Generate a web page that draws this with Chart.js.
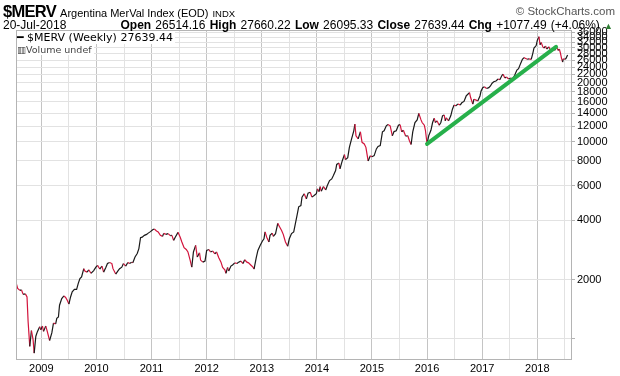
<!DOCTYPE html>
<html lang="en">

<head>
    <meta charset="UTF-8">
    <title>$MERV Argentina MerVal Index</title>
    <script src="https://cdn.jsdelivr.net/npm/chart.js"></script>
    <style>
        body,
        html {
            margin: 0;
            padding: 0;
            background-color: #fff;
            font-family: "Liberation Sans", Arial, sans-serif;
        }

        .wrap {
            position: relative;
            width: 620px;
            height: 376px;
            overflow: hidden;
        }

        canvas {
            position: absolute;
            left: 0;
            top: 0;
        }

        .hdr {
            position: absolute;
            white-space: nowrap;
            color: #000;
        }

        .sym {
            font-weight: bold;
            font-size: 16.5px;
            letter-spacing: -0.7px;
        }

        .name {
            font-size: 11px;
            margin-left: 4px;
        }

        .exch {
            font-size: 9.5px;
            margin-left: 4px;
        }

        .copy {
            color: #555;
            font-size: 11.5px;
        }

        .quote {
            font-size: 12px;
        }

        .quote b {
            font-weight: bold;
        }

        .up {
            color: #2e7d32;
            font-size: 9px;
        }

        .legend {
            position: absolute;
            left: 17px;
            white-space: nowrap;
            background: #fff;
            font-family: "DejaVu Sans", sans-serif;
        }
    </style>
</head>

<body>
    <div class="wrap">
        <canvas id="mervChart" width="620" height="376"></canvas>

        <div class="hdr" style="left:3px; top:2px;">
            <span class="sym">$MERV</span><span class="name">Argentina MerVal Index (EOD)</span><span class="exch">INDX</span>
        </div>
        <div class="hdr copy" style="right:5px; top:5px;">© StockCharts.com</div>
        <div class="hdr quote" style="left:3px; top:18px;">20-Jul-2018</div>
        <div class="hdr quote" style="right:7px; top:18px; word-spacing:0.9px;">
            <b>Open</b> 26514.16 <b>High</b> 27660.22 <b>Low</b> 26095.33 <b>Close</b> 27639.44
            <b>Chg</b> +1077.49 (+4.06%) <span class="up">▲</span>
        </div>

        <div class="legend" style="top:31px; font-size:11px; padding-right:2px;">
            <b>━</b> $MERV (Weekly) 27639.44
        </div>
        <div class="legend" style="top:44px; font-size:9.5px; color:#444; padding-right:2px;">
            ▥Volume undef
        </div>
    </div>

    <script>
        // weekly closes (decimal years)
        const weeks = [
            2008.55, 2008.57, 2008.61, 2008.64, 2008.67, 2008.71, 2008.74, 2008.76, 2008.79, 2008.82,
            2008.85, 2008.87, 2008.90, 2008.93, 2008.97, 2008.99, 2009.02, 2009.04, 2009.08, 2009.10,
            2009.15, 2009.19, 2009.22, 2009.26, 2009.28, 2009.31, 2009.33, 2009.37, 2009.41, 2009.44,
            2009.47, 2009.50, 2009.53, 2009.56, 2009.60, 2009.64, 2009.67, 2009.70, 2009.73, 2009.77,
            2009.79, 2009.83, 2009.86, 2009.90, 2009.95, 2009.99, 2010.02, 2010.06, 2010.10, 2010.13,
            2010.17, 2010.20, 2010.24, 2010.28, 2010.30, 2010.35, 2010.39, 2010.42, 2010.46, 2010.49,
            2010.53, 2010.57, 2010.60, 2010.64, 2010.66, 2010.70, 2010.74, 2010.77, 2010.80, 2010.83,
            2010.87, 2010.91, 2010.94, 2010.98, 2011.02, 2011.05, 2011.09, 2011.12, 2011.16, 2011.20,
            2011.22, 2011.26, 2011.30, 2011.34, 2011.37, 2011.40, 2011.43, 2011.48, 2011.52, 2011.55,
            2011.59, 2011.63, 2011.66, 2011.70, 2011.73, 2011.76, 2011.80, 2011.83, 2011.87, 2011.89,
            2011.93, 2011.97, 2012.00, 2012.04, 2012.07, 2012.11, 2012.15, 2012.18, 2012.22, 2012.26,
            2012.29, 2012.33, 2012.35, 2012.38, 2012.40, 2012.44, 2012.47, 2012.51, 2012.55, 2012.58,
            2012.62, 2012.66, 2012.69, 2012.73, 2012.76, 2012.80, 2012.84, 2012.86, 2012.90, 2012.93,
            2012.97, 2013.01, 2013.04, 2013.06, 2013.09, 2013.13, 2013.15, 2013.19, 2013.21, 2013.25,
            2013.29, 2013.32, 2013.36, 2013.39, 2013.43, 2013.47, 2013.50, 2013.54, 2013.58, 2013.61,
            2013.64, 2013.67, 2013.71, 2013.73, 2013.77, 2013.81, 2013.84, 2013.88, 2013.91, 2013.95,
            2013.99, 2014.01, 2014.04, 2014.06, 2014.08, 2014.12, 2014.16, 2014.19, 2014.23, 2014.27,
            2014.30, 2014.34, 2014.36, 2014.40, 2014.42, 2014.46, 2014.50, 2014.52, 2014.56, 2014.59,
            2014.63, 2014.67, 2014.69, 2014.71, 2014.75, 2014.79, 2014.82, 2014.86, 2014.89, 2014.93,
            2014.97, 2015.00, 2015.04, 2015.08, 2015.11, 2015.15, 2015.19, 2015.22, 2015.26, 2015.29,
            2015.33, 2015.37, 2015.40, 2015.44, 2015.48, 2015.51, 2015.54, 2015.57, 2015.61, 2015.65,
            2015.68, 2015.71, 2015.74, 2015.78, 2015.82, 2015.85, 2015.89, 2015.91, 2015.95, 2015.97,
            2016.00, 2016.03, 2016.07, 2016.10, 2016.13, 2016.15, 2016.18, 2016.22, 2016.25, 2016.28,
            2016.31, 2016.33, 2016.35, 2016.39, 2016.43, 2016.46, 2016.49, 2016.52, 2016.56, 2016.60,
            2016.63, 2016.67, 2016.71, 2016.74, 2016.77, 2016.79, 2016.83, 2016.85, 2016.89, 2016.92,
            2016.96, 2016.98, 2017.01, 2017.04, 2017.08, 2017.12, 2017.15, 2017.18, 2017.21, 2017.25,
            2017.29, 2017.32, 2017.36, 2017.38, 2017.41, 2017.44, 2017.48, 2017.52, 2017.55, 2017.59,
            2017.63, 2017.66, 2017.70, 2017.73, 2017.76, 2017.78, 2017.82, 2017.85, 2017.89, 2017.92,
            2017.94, 2017.98, 2018.00, 2018.03, 2018.05, 2018.07, 2018.10, 2018.12, 2018.15, 2018.17,
            2018.21, 2018.24, 2018.28, 2018.32, 2018.35, 2018.38, 2018.40, 2018.42, 2018.44, 2018.46,
            2018.47, 2018.50, 2018.52, 2018.55
        ];

        const closes = [
            1890, 1800, 1760, 1770, 1680, 1690, 1630, 1220, 915, 1100,
            990, 845, 1030, 1090, 1150, 1110, 1160, 1090, 1160, 1110,
            980, 1070, 1200, 1190, 1270, 1290, 1480, 1600, 1650, 1620,
            1570, 1500, 1630, 1730, 1780, 1780, 1910, 2020, 2060, 2270,
            2210, 2180, 2240, 2150, 2220, 2310, 2360, 2260, 2340, 2180,
            2300, 2410, 2440, 2410, 2270, 2130, 2210, 2270, 2310, 2410,
            2340, 2440, 2410, 2450, 2430, 2600, 2710, 2870, 3260, 3280,
            3350, 3390, 3440, 3500, 3580, 3610, 3530, 3490, 3350, 3310,
            3430, 3390, 3420, 3340, 3350, 3160, 3280, 3470, 3280, 3100,
            2900, 2840, 2760, 2510, 2310, 2760, 2980, 2600, 2730, 2510,
            2450, 2480, 2810, 2840, 2760, 2790, 2700, 2760, 2580, 2450,
            2300, 2240, 2150, 2300, 2210, 2340, 2370, 2430, 2410, 2450,
            2480, 2410, 2520, 2450, 2430, 2370, 2310, 2260, 2580, 2810,
            2980, 3130, 3220, 3490, 3280, 3100, 3350, 3440, 3310, 3420,
            3860, 3720, 3550, 3390, 3100, 2950, 3220, 3420, 3490, 3840,
            4230, 4680, 4750, 5240, 5450, 5130, 5490, 5550, 5240, 5340,
            5450, 5770, 5590, 5930, 5620, 5930, 5700, 6000, 6360, 6480,
            6740, 7150, 7680, 7800, 7300, 8000, 8610, 8120, 8310, 9380,
            10350, 11380, 12310, 10740, 10350, 11250, 9950, 9760, 9380, 8000,
            8510, 8410, 8510, 9210, 9470, 9580, 11250, 11380, 12070, 12240,
            12070, 10740, 11280, 11380, 12150, 12240, 11250, 11450, 10700, 10740,
            10130, 9700, 11250, 12540, 12930, 13950, 12930, 12540, 12150, 11450,
            9760, 10740, 11450, 12540, 13180, 12540, 12790, 12150, 12540, 13560,
            13700, 12790, 13250, 12790, 13560, 14660, 15380, 15230, 15560, 15380,
            15790, 16050, 17110, 17450, 17780, 16800, 15560, 16460, 16300, 16140,
            17110, 18140, 18850, 19040, 18660, 18850, 19230, 19860, 20200, 20390,
            20870, 20700, 21780, 22060, 21100, 21360, 20870, 21100, 20870, 21780,
            23160, 23520, 25110, 26260, 26810, 26560, 26260, 26420, 26260, 28260,
            29980, 30840, 32780, 34220, 31150, 32010, 30400, 29980, 30670, 29620,
            30400, 29140, 29620, 29170, 30400, 29140, 29620, 28260, 26560, 25440,
            26420, 26260, 26510, 27639.44
        ];

        // green trend line drawn on the chart
        const trendX = [2016.00, 2018.34];
        const trendY = [9760, 30400];

        const yTicks = [1000, 2000, 4000, 6000, 8000, 10000, 12000, 14000, 16000, 18000, 20000,
            22000, 24000, 26000, 28000, 30000, 32000, 34000, 36000];
        const yearTicks = [2009, 2009.5, 2010, 2010.5, 2011, 2011.5, 2012, 2012.5, 2013, 2013.5, 2014,
            2014.5, 2015, 2015.5, 2016, 2016.5, 2017, 2017.5, 2018, 2018.5];

        const UP = '#1a1a1a';
        const DOWN = '#d2143c';

        // frame round the plot area
        const frame = {
            id: 'frame',
            afterDraw(chart) {
                const a = chart.chartArea;
                const c = chart.ctx;
                c.save();
                c.strokeStyle = '#b4b4b4';
                c.lineWidth = 1;
                c.strokeRect(a.left + 0.5, a.top + 0.5, a.right - a.left - 1, a.bottom - a.top - 1);
                c.restore();
            }
        };

        const price = weeks.map((w, i) => ({ x: w, y: closes[i] }));
        const trend = trendX.map((w, i) => ({ x: w, y: trendY[i] }));

        new Chart(document.getElementById('mervChart'), {
            type: 'line',
            data: {
                datasets: [{
                    data: trend,
                    borderColor: '#27b04b',
                    borderWidth: 4,
                    pointRadius: 0,
                    borderCapStyle: 'round'
                }, {
                    data: price,
                    borderColor: UP,
                    borderWidth: 1.2,
                    pointRadius: 0,
                    tension: 0,
                    segment: {
                        borderColor: ctx => ctx.p1.parsed.y < ctx.p0.parsed.y ? DOWN : UP
                    }
                }]
            },
            options: {
                responsive: false,
                devicePixelRatio: 1,
                animation: false,
                events: [],
                layout: { padding: { left: 16, top: 30, right: 0, bottom: 0 } },
                plugins: {
                    legend: { display: false },
                    tooltip: { enabled: false }
                },
                scales: {
                    x: {
                        type: 'linear',
                        min: 2008.54,
                        max: 2018.63,
                        afterBuildTicks: s => { s.ticks = yearTicks.map(v => ({ value: v })); },
                        afterFit: s => { s.height = 16; },
                        grid: {
                            drawTicks: false,
                            color: c => Number.isInteger(c.tick.value) ? '#c4c4c4' : '#e2e2e2'
                        },
                        border: { display: false },
                        ticks: {
                            autoSkip: false,
                            maxRotation: 0,
                            padding: 2,
                            color: '#000',
                            font: { family: '"Liberation Sans", Arial, sans-serif', size: 11 },
                            callback: v => Number.isInteger(v) ? String(v) : ''
                        }
                    },
                    y: {
                        type: 'logarithmic',
                        position: 'right',
                        min: 780,
                        max: 37000,
                        afterBuildTicks: s => { s.ticks = yTicks.map(v => ({ value: v })); },
                        afterFit: s => { s.width = 48; },
                        grid: {
                            color: '#e2e2e2',
                            tickColor: '#b4b4b4',
                            tickLength: 3
                        },
                        border: { display: false },
                        ticks: {
                            autoSkip: false,
                            padding: 2,
                            color: '#000',
                            font: { family: '"Liberation Sans", Arial, sans-serif', size: 11 },
                            callback: v => v === 1000 ? '' : String(v)
                        }
                    }
                }
            },
            plugins: [frame]
        });
    </script>
</body>

</html>
